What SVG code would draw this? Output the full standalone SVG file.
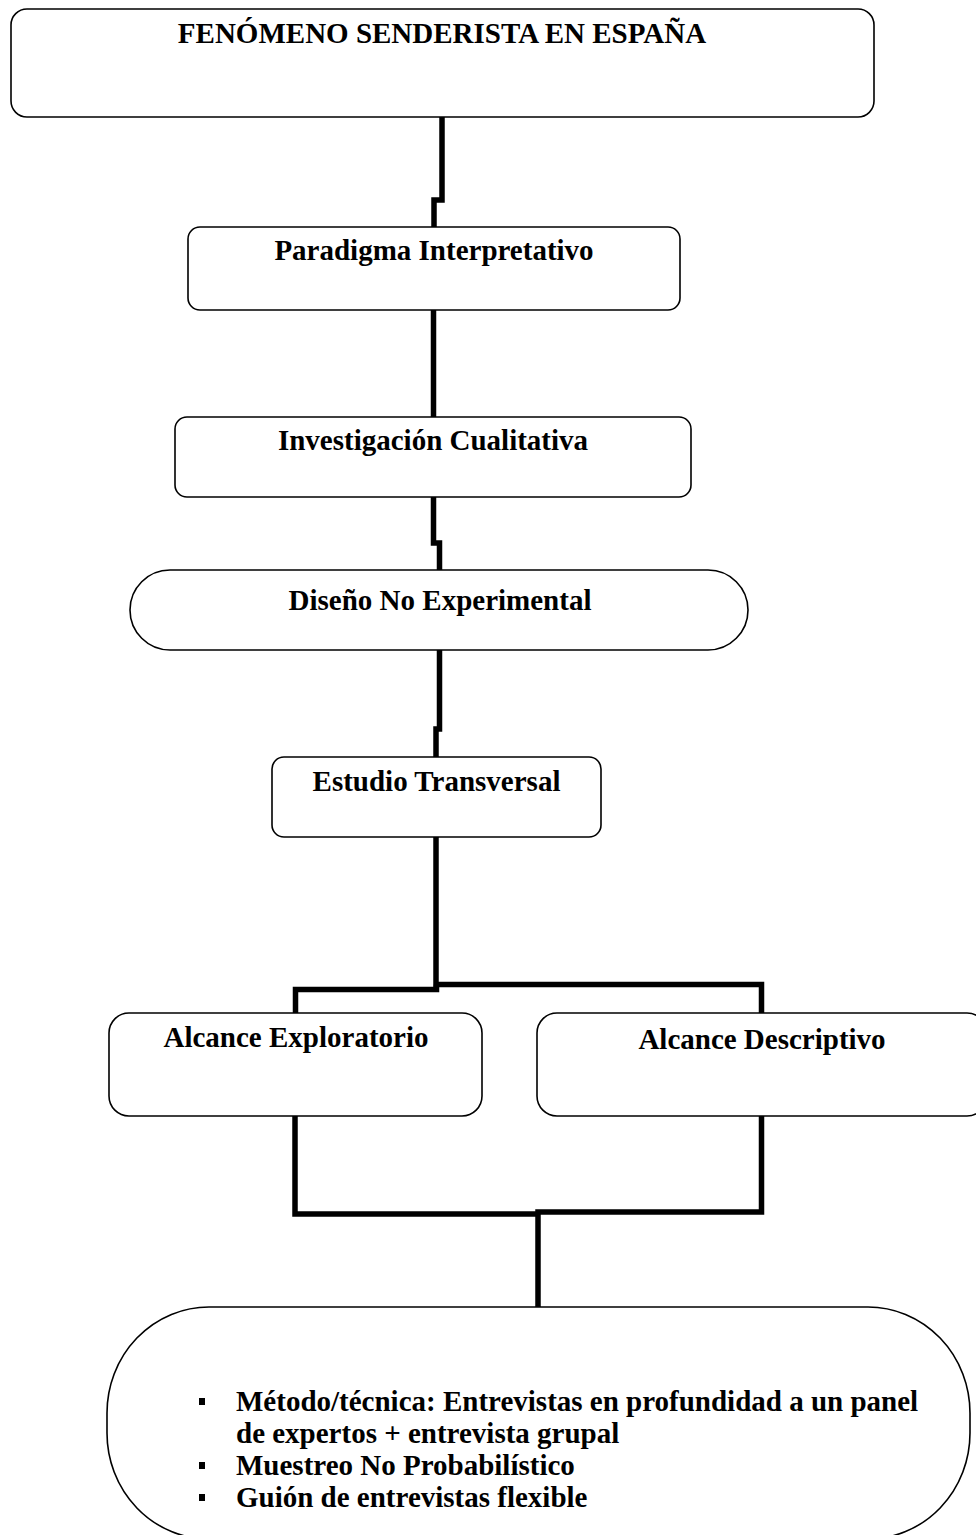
<svg xmlns="http://www.w3.org/2000/svg" width="976" height="1535" viewBox="0 0 976 1535">
<style>
.box{fill:#fff;stroke:#000;stroke-width:1.6}
.lbl{font-family:"Liberation Serif","Times New Roman",serif;font-weight:bold;font-size:29px;fill:#000}
.mid{text-anchor:middle}
.con{fill:none;stroke:#000;stroke-width:5.5;stroke-linejoin:miter;stroke-linecap:butt}
</style>
<rect width="976" height="1535" fill="#fff"/>
<g id="connectors">
<path class="con" d="M442,117 V200 H434 V227"/>
<path class="con" d="M433.5,310 V417"/>
<path class="con" d="M433.5,497 V543 H439.5 V570"/>
<path class="con" d="M439.5,650 V729 H436 V757"/>
<path class="con" d="M436,837 V984.5 H761.5 V1013"/>
<path class="con" d="M436.5,984.5 V989.5 H295.5 V1013"/>
<path class="con" d="M295,1116 V1214 H538"/>
<path class="con" d="M761.5,1116 V1212 H538 V1307"/>
</g>
<g id="n1">
<rect class="box" x="11" y="9" width="863" height="108" rx="16" ry="16"/>
<text class="lbl mid" x="442" y="43">FENÓMENO SENDERISTA EN ESPAÑA</text>
</g>
<g id="n2">
<rect class="box" x="188" y="227" width="492" height="83" rx="12" ry="12"/>
<text class="lbl mid" x="434" y="260">Paradigma Interpretativo</text>
</g>
<g id="n3">
<rect class="box" x="175" y="417" width="516" height="80" rx="12" ry="12"/>
<text class="lbl mid" x="433" y="450">Investigación Cualitativa</text>
</g>
<g id="n4">
<rect class="box" x="130" y="570" width="618" height="80" rx="40" ry="40"/>
<text class="lbl mid" x="440" y="610">Diseño No Experimental</text>
</g>
<g id="n5">
<rect class="box" x="272" y="757" width="329" height="80" rx="12" ry="12"/>
<text class="lbl mid" x="436.5" y="791">Estudio Transversal</text>
</g>
<g id="n6">
<rect class="box" x="109" y="1013" width="373" height="103" rx="20" ry="20"/>
<text class="lbl mid" x="296" y="1047">Alcance Exploratorio</text>
</g>
<g id="n7">
<rect class="box" x="537" y="1013" width="450" height="103" rx="20" ry="20"/>
<text class="lbl mid" x="762" y="1049">Alcance Descriptivo</text>
</g>
<g id="n8">
<rect class="box" x="107" y="1307" width="863" height="232" rx="102" ry="106"/>
<rect x="199" y="1398" width="6" height="7" fill="#000"/>
<rect x="199" y="1462" width="6" height="7" fill="#000"/>
<rect x="199" y="1494" width="6" height="7" fill="#000"/>
<text class="lbl" x="236" y="1411">Método/técnica: Entrevistas en profundidad a un panel</text>
<text class="lbl" x="236" y="1443">de expertos + entrevista grupal</text>
<text class="lbl" x="236" y="1475">Muestreo No Probabilístico</text>
<text class="lbl" x="236" y="1507">Guión de entrevistas flexible</text>
</g>
</svg>
